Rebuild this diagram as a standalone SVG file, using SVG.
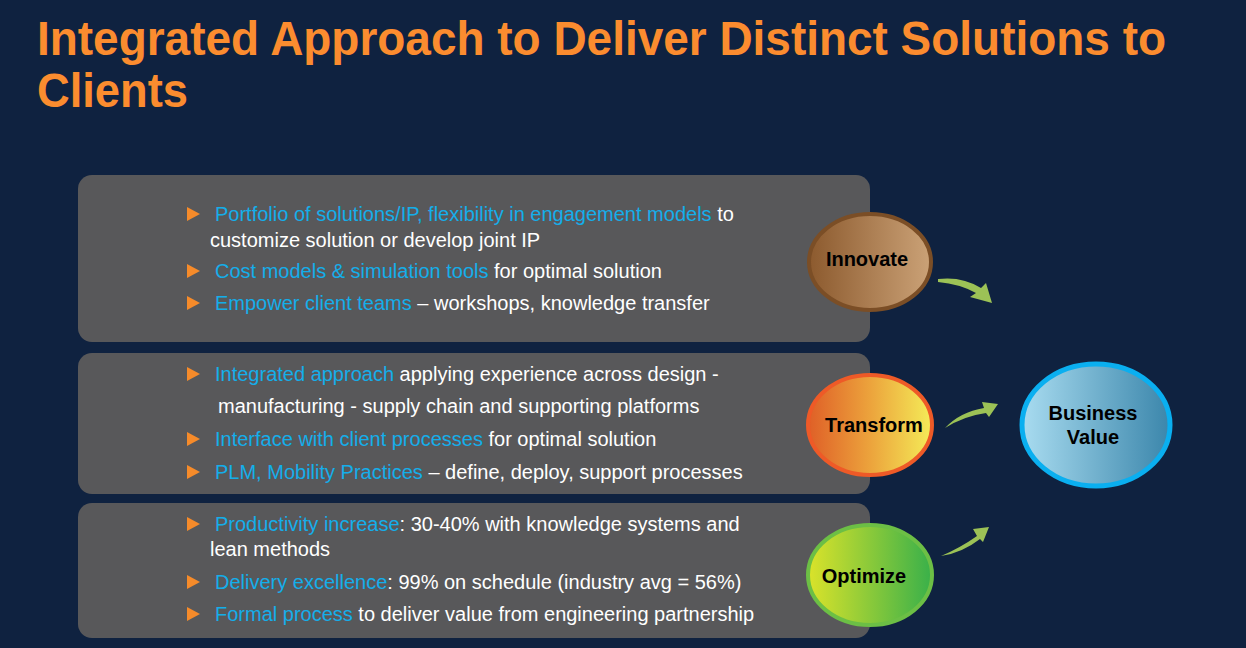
<svg xmlns="http://www.w3.org/2000/svg" width="1246" height="648" viewBox="0 0 1246 648">
<defs>
<style>
.title{font-family:"Liberation Sans",Arial,sans-serif;font-weight:bold;font-size:48px;fill:#fb8c2f}
.t{font-family:"Liberation Sans",Arial,sans-serif;font-size:20px;fill:#ffffff}
.b{fill:#14aeea}
.box{fill:#58585a}
.bul{fill:#f68b2a}
.lbl{font-family:"Liberation Sans",Arial,sans-serif;font-weight:bold;font-size:20px;fill:#000;text-anchor:middle}
.arr{fill:#9cc256}
</style>
<linearGradient id="gInn" x1="0" y1="0" x2="1" y2="0"><stop offset="0" stop-color="#8c5a2e"/><stop offset="1" stop-color="#cba277"/></linearGradient>
<linearGradient id="gTr" x1="0" y1="0" x2="1" y2="0"><stop offset="0" stop-color="#df5f27"/><stop offset="0.5" stop-color="#eca33c"/><stop offset="1" stop-color="#f4ec58"/></linearGradient>
<linearGradient id="gOp" x1="0" y1="0" x2="1" y2="0"><stop offset="0" stop-color="#dbe32a"/><stop offset="1" stop-color="#39b04a"/></linearGradient>
<linearGradient id="gBv" x1="0" y1="0" x2="1" y2="0"><stop offset="0" stop-color="#a9dcf0"/><stop offset="1" stop-color="#3b86ab"/></linearGradient>
</defs>
<rect width="1246" height="648" fill="#0f2240"/>
<g id="title">
<text class="title" x="37" y="55" textLength="1129" lengthAdjust="spacingAndGlyphs">Integrated Approach to Deliver Distinct Solutions to</text>
<text class="title" x="37" y="107" textLength="151" lengthAdjust="spacingAndGlyphs">Clients</text>
</g>
<g id="box-innovate">
<rect class="box" x="78" y="175" width="792" height="167" rx="14"/>
<polygon class="bul" points="187,207 200,214 187,221"/>
<text class="t" x="215" y="221"><tspan class="b">Portfolio of solutions/IP, flexibility in engagement models</tspan> to</text>
<text class="t" x="210" y="247">customize solution or develop joint IP</text>
<polygon class="bul" points="187,264 200,271 187,278"/>
<text class="t" x="215" y="278"><tspan class="b">Cost models &amp; simulation tools</tspan> for optimal solution</text>
<polygon class="bul" points="187,296 200,303 187,310"/>
<text class="t" x="215" y="310"><tspan class="b">Empower client teams</tspan> – workshops, knowledge transfer</text>
</g>
<g id="box-transform">
<rect class="box" x="78" y="353" width="792" height="141" rx="14"/>
<polygon class="bul" points="187,367 200,374 187,381"/>
<text class="t" x="215" y="381"><tspan class="b">Integrated approach</tspan> applying experience across design -</text>
<text class="t" x="218" y="413">manufacturing - supply chain and supporting platforms</text>
<polygon class="bul" points="187,432 200,439 187,446"/>
<text class="t" x="215" y="446"><tspan class="b">Interface with client processes</tspan> for optimal solution</text>
<polygon class="bul" points="187,465 200,472 187,479"/>
<text class="t" x="215" y="479"><tspan class="b">PLM, Mobility Practices</tspan> – define, deploy, support processes</text>
</g>
<g id="box-optimize">
<rect class="box" x="78" y="503" width="792" height="135" rx="14"/>
<polygon class="bul" points="187,517 200,524 187,531"/>
<text class="t" x="215" y="531"><tspan class="b">Productivity increase</tspan>: 30-40% with knowledge systems and</text>
<text class="t" x="210" y="556">lean methods</text>
<polygon class="bul" points="187,575 200,582 187,589"/>
<text class="t" x="215" y="589"><tspan class="b">Delivery excellence</tspan>: 99% on schedule (industry avg = 56%)</text>
<polygon class="bul" points="187,607 200,614 187,621"/>
<text class="t" x="215" y="621"><tspan class="b">Formal process</tspan> to deliver value from engineering partnership</text>
</g>
<g id="node-innovate">
<ellipse cx="870" cy="262" rx="61" ry="48" fill="url(#gInn)" stroke="#7b4e26" stroke-width="4"/>
<text class="lbl" x="867" y="266">Innovate</text>
</g>
<g id="node-transform">
<ellipse cx="870" cy="425" rx="62" ry="50" fill="url(#gTr)" stroke="#ee5a27" stroke-width="4"/>
<text class="lbl" x="874" y="432">Transform</text>
</g>
<g id="node-optimize">
<ellipse cx="870" cy="575" rx="62" ry="50" fill="url(#gOp)" stroke="#6cbf45" stroke-width="4"/>
<text class="lbl" x="864" y="583">Optimize</text>
</g>
<g id="node-business-value">
<ellipse cx="1096" cy="425" rx="74" ry="61" fill="url(#gBv)" stroke="#0aaff0" stroke-width="5"/>
<text class="lbl" x="1093" y="420">Business</text>
<text class="lbl" x="1093" y="444">Value</text>
</g>
<g id="connectors">
<path class="arr" d="M938,279 Q962,276 981,288 L986,283 L992,303 L970,297 L976,293 Q960,284 938,282 Z"/>
<path class="arr" d="M945,428 Q960,412 984,408 L982,402 L998,404 L989,417 L986,413 Q964,416 945,428 Z"/>
<path class="arr" d="M941,556 Q960,548 977,536 L973,529 L989,527 L983,542 L980,539 Q962,553 941,556 Z"/>
</g>
</svg>
